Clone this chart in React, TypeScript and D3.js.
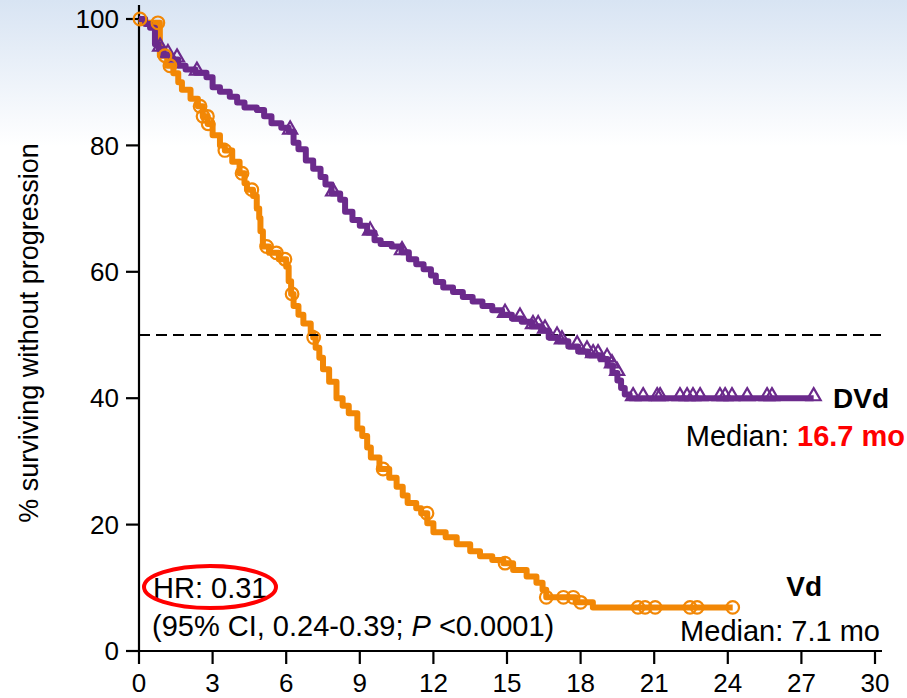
import React from "react";
import * as d3 from "d3";

// Progression-free survival steps: [month, % surviving without progression]
const dvdSteps: [number, number][] = [
  [0, 100], [0.25, 99.2], [0.45, 98.6], [0.65, 96.0], [0.8, 95.3], [1.0, 94.3],
  [1.3, 93.6], [1.6, 92.6], [1.9, 92.0], [2.3, 91.5], [2.75, 90.8], [3.0, 89.2],
  [3.3, 88.5], [3.7, 87.7], [4.0, 86.8], [4.3, 86.0], [4.8, 85.6], [5.1, 84.6],
  [5.4, 83.5], [5.8, 82.8], [6.1, 82.2], [6.3, 80.4], [6.5, 79.4], [6.8, 77.6],
  [7.1, 76.3], [7.4, 75.0], [7.6, 73.8], [7.85, 72.4], [8.2, 71.4], [8.4, 69.5],
  [8.7, 68.2], [9.0, 67.3], [9.3, 66.2], [9.6, 65.0], [9.85, 64.4], [10.3, 64.0],
  [10.7, 63.1], [11.0, 62.0], [11.3, 61.2], [11.6, 60.4], [11.9, 59.4], [12.1, 58.4],
  [12.4, 57.5], [12.8, 56.8], [13.2, 56.0], [13.6, 55.3], [14.0, 54.6], [14.4, 53.9],
  [14.8, 53.2], [15.2, 52.6], [15.6, 52.1], [16.0, 51.4], [16.4, 50.7], [16.7, 49.6],
  [17.1, 49.0], [17.5, 48.2], [17.9, 47.4], [18.3, 46.8], [18.8, 46.2], [19.1, 45.2],
  [19.3, 44.0], [19.5, 42.8], [19.65, 41.6], [19.8, 40.6], [20.0, 40.0], [27.5, 40.0],
];

const vdSteps: [number, number][] = [
  [0, 100], [0.1, 99.4], [0.85, 94.2], [1.15, 92.6], [1.4, 91.4], [1.6, 90.0],
  [1.75, 88.8], [2.1, 87.4], [2.4, 86.2], [2.6, 84.6], [2.8, 83.4], [3.0, 81.6],
  [3.3, 80.0], [3.5, 79.2], [3.8, 77.4], [4.1, 75.6], [4.3, 74.0], [4.4, 73.0],
  [4.65, 72.0], [4.8, 70.0], [4.9, 68.5], [4.95, 66.4], [5.05, 64.0], [5.3, 63.0],
  [5.7, 62.0], [6.0, 60.8], [6.1, 58.5], [6.2, 56.5], [6.3, 54.6], [6.5, 53.2],
  [6.7, 51.8], [7.0, 50.4], [7.1, 49.6], [7.2, 48.0], [7.35, 46.4], [7.5, 44.6],
  [7.75, 42.6], [8.05, 40.0], [8.3, 38.8], [8.55, 37.6], [8.9, 35.2], [9.1, 34.0],
  [9.3, 32.2], [9.45, 30.6], [9.8, 28.8], [10.2, 27.4], [10.5, 26.0], [10.75, 24.6],
  [10.95, 23.4], [11.3, 22.6], [11.5, 21.8], [11.75, 20.2], [12.0, 18.8], [12.5, 18.0],
  [12.95, 16.9], [13.5, 15.8], [13.9, 15.0], [14.4, 14.4], [14.85, 13.9], [15.25, 12.8],
  [15.8, 11.8], [16.2, 10.8], [16.45, 9.7], [16.6, 8.5], [17.8, 7.7], [18.5, 6.9],
  [24.2, 6.9],
];

// Censoring times (months)
const dvdCensored: number[] = [
  0.86, 1.18, 1.55, 2.36, 6.16, 7.91, 9.42, 10.72, 14.92, 15.53, 16.06, 16.27,
  16.55, 17.04, 17.24, 17.86, 18.26, 18.51, 18.71, 19.08, 19.28, 19.49, 20.14,
  20.55, 21.12, 21.24, 22.05, 22.34, 22.58, 22.87, 23.68, 23.89, 24.17, 24.79,
  25.6, 25.8, 27.5,
];

const vdCensored: number[] = [
  0.04, 0.77, 1.06, 1.26, 2.49, 2.61, 2.79, 2.82, 3.5, 4.2, 4.6, 5.2, 5.6, 5.95,
  6.24, 7.12, 9.95, 11.74, 14.92, 16.6, 17.3, 17.7, 18.0, 20.34, 20.63, 21.04,
  22.46, 22.75, 24.2,
];

const xTicks: number[] = [0, 3, 6, 9, 12, 15, 18, 21, 24, 27, 30];
const yTicks: number[] = [0, 20, 40, 60, 80, 100];

const PURPLE = "#6b2a8c";
const ORANGE = "#f28705";
const FONT = "'Liberation Sans', Arial, sans-serif";

const W = 907;
const H = 698;

const x = d3.scaleLinear().domain([0, 30]).range([139, 875]);
const y = d3.scaleLinear().domain([0, 100]).range([651, 19]);

const survAt = (steps: [number, number][], t: number) => {
  let v = steps[0][1];
  for (const [tt, s] of steps) {
    if (tt <= t) v = s;
    else break;
  }
  return v;
};

const line = d3
  .line<[number, number]>()
  .x((d) => x(d[0]))
  .y((d) => y(d[1]))
  .curve(d3.curveStepAfter);

const triangle = d3.symbol().type(d3.symbolTriangle).size(85)() as string;

export default function App() {
  return (
    <svg
      width={W}
      height={H}
      style={{ position: "absolute", left: 0, top: 0, fontFamily: FONT }}
    >
      <defs>
        <linearGradient id="bg" x1="0" y1="0" x2="0" y2="1">
          <stop offset="0" stopColor="#d8e4f3" />
          <stop offset="0.21" stopColor="#ffffff" />
          <stop offset="1" stopColor="#ffffff" />
        </linearGradient>
      </defs>
      <rect x={0} y={0} width={W} height={H} fill="url(#bg)" />

      {/* Axes */}
      <line x1={x(0)} x2={x(0)} y1={5} y2={y(0)} stroke="#000" strokeWidth={2.2} />
      <line x1={126} x2={882} y1={y(0)} y2={y(0)} stroke="#000" strokeWidth={2.2} />
      {yTicks.map((t) => (
        <g key={"y" + t}>
          <line x1={126} x2={x(0)} y1={y(t)} y2={y(t)} stroke="#000" strokeWidth={2.2} />
          <text x={119} y={y(t)} dy="0.35em" textAnchor="end" fontSize={26}>
            {t}
          </text>
        </g>
      ))}
      {xTicks.map((t) => (
        <g key={"x" + t}>
          <line x1={x(t)} x2={x(t)} y1={y(0)} y2={y(0) + 13} stroke="#000" strokeWidth={2.2} />
          <text x={x(t)} y={692} textAnchor="middle" fontSize={26}>
            {t}
          </text>
        </g>
      ))}
      <text
        transform={`translate(38, 333) rotate(-90)`}
        textAnchor="middle"
        fontSize={27}
      >
        % surviving without progression
      </text>

      {/* Survival curves */}
      <path
        d={line(vdSteps) as string}
        fill="none"
        stroke={ORANGE}
        strokeWidth={6}
        strokeLinejoin="round"
      />
      <line
        x1={x(0)}
        x2={x(30.4)}
        y1={y(50)}
        y2={y(50)}
        stroke="#000"
        strokeWidth={2.2}
        strokeDasharray="11 6"
      />
      <path
        d={line(dvdSteps) as string}
        fill="none"
        stroke={PURPLE}
        strokeWidth={6}
        strokeLinejoin="round"
      />
      {dvdCensored.map((t, i) => (
        <path
          key={"c" + i}
          d={triangle}
          transform={`translate(${x(t)}, ${y(survAt(dvdSteps, t)) - 2})`}
          fill="none"
          stroke={PURPLE}
          strokeWidth={2.2}
        />
      ))}
      {vdCensored.map((t, i) => (
        <circle
          key={"o" + i}
          cx={x(t)}
          cy={y(survAt(vdSteps, t))}
          r={6.3}
          fill="none"
          stroke={ORANGE}
          strokeWidth={2.2}
        />
      ))}

      {/* Annotations */}
      <text x={889} y={408} textAnchor="end" fontSize={28} fontWeight="bold">
        DVd
      </text>
      <text x={905} y={446} textAnchor="end" fontSize={29}>
        Median:{" "}
        <tspan fill="#ff0000" fontWeight="bold">
          16.7 mo
        </tspan>
      </text>
      <text x={822} y={596} textAnchor="end" fontSize={28} fontWeight="bold">
        Vd
      </text>
      <text x={880} y={641} textAnchor="end" fontSize={29}>
        Median: 7.1 mo
      </text>
      <text x={153} y={598} fontSize={29}>
        HR: 0.31
      </text>
      <text x={152} y={636} fontSize={29}>
        (95% CI, 0.24-0.39; <tspan fontStyle="italic">P</tspan> &lt;0.0001)
      </text>
      <ellipse cx={210} cy={587} rx={66} ry={21} fill="none" stroke="#ff0000" strokeWidth={4} />
    </svg>
  );
}
